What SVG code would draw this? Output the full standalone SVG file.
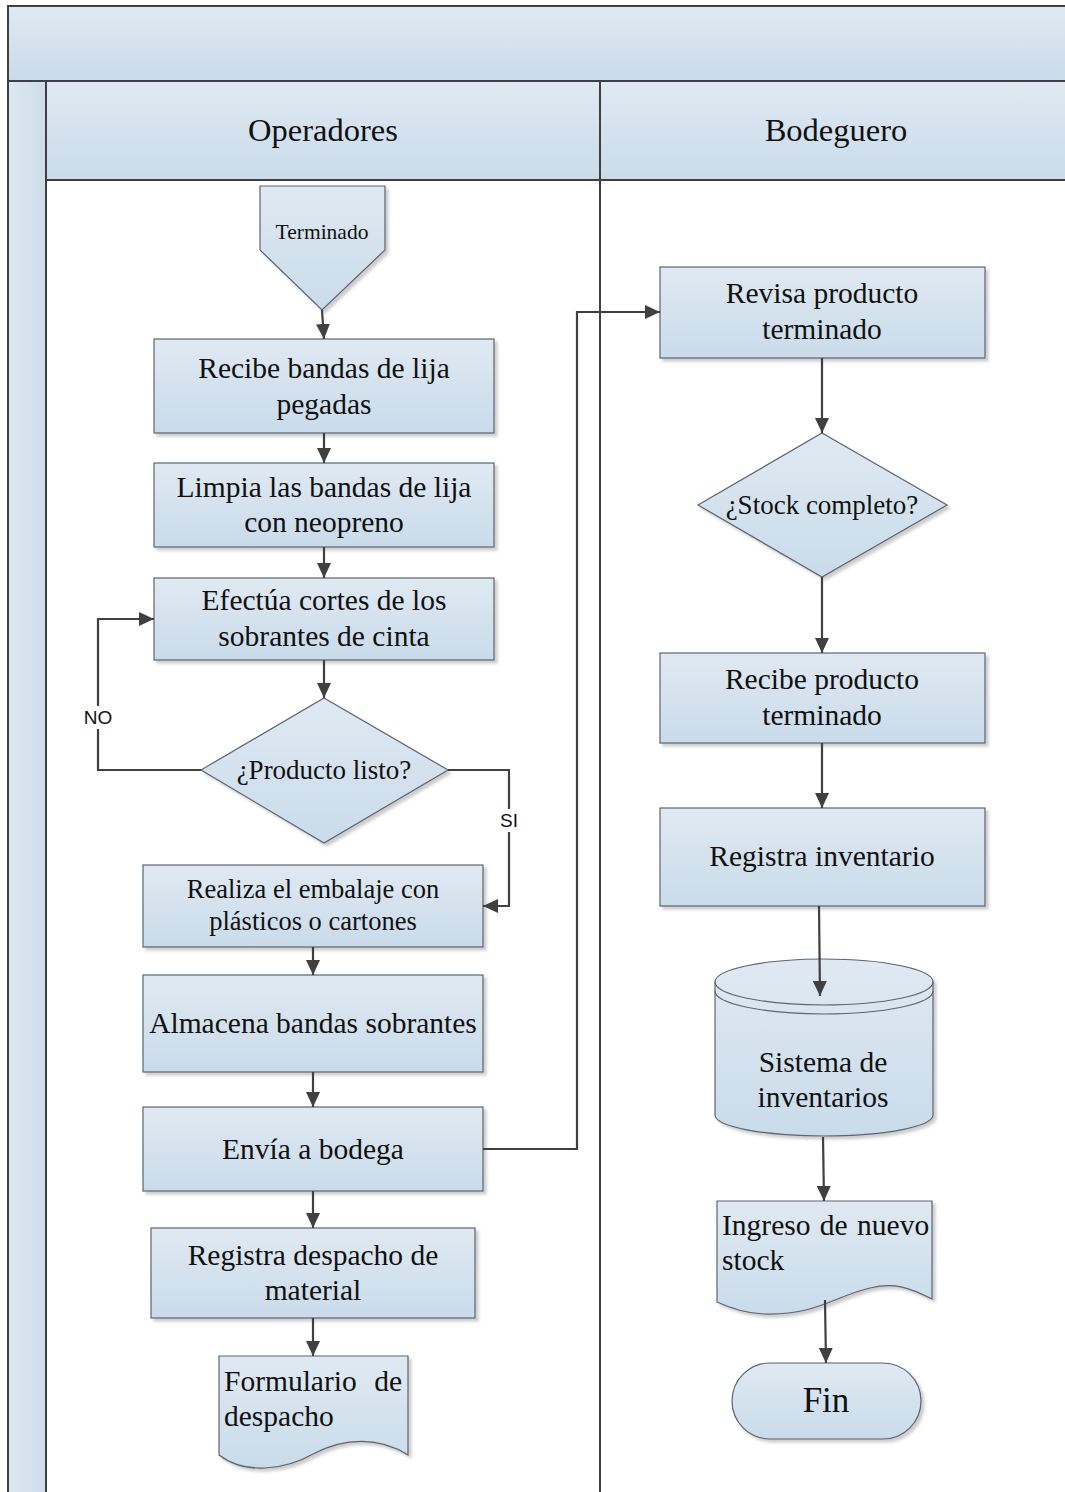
<svg xmlns="http://www.w3.org/2000/svg" width="1065" height="1492" viewBox="0 0 1065 1492">
  <defs>
    <linearGradient id="fillBlue" x1="0" y1="0" x2="0" y2="1">
      <stop offset="0" stop-color="#e0e9f2"/>
      <stop offset="1" stop-color="#c9dbea"/>
    </linearGradient>
    <linearGradient id="stripBlue" x1="0" y1="0" x2="1" y2="0">
      <stop offset="0" stop-color="#dfe8f1"/>
      <stop offset="1" stop-color="#cddcea"/>
    </linearGradient>
    <filter id="shadow" x="-10%" y="-10%" width="125%" height="130%">
      <feDropShadow dx="3" dy="3" stdDeviation="1.5" flood-color="#9a9a9a" flood-opacity="0.5"/>
    </filter>
    <marker id="arrow" viewBox="0 0 15 14" refX="15" refY="7" markerWidth="15" markerHeight="14" markerUnits="userSpaceOnUse" orient="auto">
      <path d="M0,0 L15,7 L0,14 z" fill="#404040"/>
    </marker>
  </defs>
  <style>
    .shape { fill: url(#fillBlue); stroke: #5b6570; stroke-width: 1.2; filter: url(#shadow); }
    .lbl { font-family: "Liberation Serif", "Times New Roman", serif; font-size: 29.5px; fill: #111; text-anchor: middle; }
    .lblS { font-family: "Liberation Serif", "Times New Roman", serif; font-size: 26.5px; fill: #111; text-anchor: middle; }
    .hdr { font-family: "Liberation Serif", "Times New Roman", serif; font-size: 32.5px; fill: #111; text-anchor: middle; }
    .doc { font-family: "Liberation Serif", "Times New Roman", serif; font-size: 29.5px; fill: #111; }
    .edge { fill: none; stroke: #404040; stroke-width: 2.2; }
    .arr { marker-end: url(#arrow); }
    .tag { font-family: "Liberation Sans", Arial, sans-serif; font-size: 19px; fill: #111; text-anchor: middle; }
    .frame { fill: none; stroke: #404040; stroke-width: 2; }
  </style>

  <rect width="1065" height="1492" fill="#ffffff"/>

  <!-- Pool and swimlanes -->
  <g id="pool">
    <rect x="8" y="6" width="1060" height="75" fill="url(#fillBlue)"/>
    <rect x="8" y="81" width="38" height="1415" fill="url(#stripBlue)"/>
    <rect x="46" y="81" width="554" height="99" fill="url(#fillBlue)"/>
    <rect x="600" y="81" width="468" height="99" fill="url(#fillBlue)"/>
    <path class="frame" d="M8,1496 V6 H1068"/>
    <path class="frame" d="M8,81 H1068"/>
    <path class="frame" d="M46,81 V1496"/>
    <path class="frame" d="M46,180 H1068"/>
    <path class="frame" d="M600,81 V1496" stroke-width="1.6"/>
  </g>
  <g id="lane-operadores"><text class="hdr" x="323" y="141">Operadores</text></g>
  <g id="lane-bodeguero"><text class="hdr" x="836" y="141">Bodeguero</text></g>

  <!-- Operadores lane nodes -->
  <g id="n-terminado">
    <path class="shape" d="M260,186 H385 V250 L322,310 L260,250 Z"/>
    <text class="lbl" x="322" y="239" style="font-size:21.5px">Terminado</text>
  </g>
  <g id="n-recibe-bandas">
    <rect class="shape" x="154" y="339" width="340" height="94"/>
    <text class="lbl" x="324" y="378">Recibe bandas de lija</text>
    <text class="lbl" x="324" y="414">pegadas</text>
  </g>
  <g id="n-limpia">
    <rect class="shape" x="154" y="463" width="340" height="84"/>
    <text class="lbl" x="324" y="497">Limpia las bandas de lija</text>
    <text class="lbl" x="324" y="532">con neopreno</text>
  </g>
  <g id="n-efectua">
    <rect class="shape" x="154" y="578" width="340" height="82"/>
    <text class="lbl" x="324" y="610">Efectúa cortes de los</text>
    <text class="lbl" x="324" y="646">sobrantes de cinta</text>
  </g>
  <g id="n-producto-listo">
    <path class="shape" d="M324,698 L448,770 L324,843 L201,770 Z"/>
    <text class="lbl" x="324" y="779" style="font-size:27px">¿Producto listo?</text>
  </g>
  <g id="n-embalaje">
    <rect class="shape" x="143" y="865" width="340" height="82"/>
    <text class="lblS" x="313" y="898">Realiza el embalaje con</text>
    <text class="lblS" x="313" y="930">plásticos o cartones</text>
  </g>
  <g id="n-almacena">
    <rect class="shape" x="143" y="975" width="340" height="97"/>
    <text class="lbl" x="313" y="1033">Almacena bandas sobrantes</text>
  </g>
  <g id="n-envia">
    <rect class="shape" x="143" y="1107" width="340" height="84"/>
    <text class="lbl" x="313" y="1159">Envía a bodega</text>
  </g>
  <g id="n-registra-despacho">
    <rect class="shape" x="151" y="1228" width="324" height="90"/>
    <text class="lbl" x="313" y="1265">Registra despacho de</text>
    <text class="lbl" x="313" y="1300">material</text>
  </g>
  <g id="n-formulario">
    <path class="shape" d="M219,1356 H408 V1455 C380,1437 345,1437 313,1454 C285,1470 245,1475 219,1455 Z"/>
    <text class="doc" x="224" y="1391">Formulario</text>
    <text class="doc" x="402" y="1391" text-anchor="end">de</text>
    <text class="doc" x="224" y="1426">despacho</text>
  </g>

  <!-- Bodeguero lane nodes -->
  <g id="n-revisa">
    <rect class="shape" x="660" y="267" width="325" height="91"/>
    <text class="lbl" x="822" y="303">Revisa producto</text>
    <text class="lbl" x="822" y="339">terminado</text>
  </g>
  <g id="n-stock-completo">
    <path class="shape" d="M822,433 L947,505 L822,577 L698,505 Z"/>
    <text class="lbl" x="822" y="514" style="font-size:27px">¿Stock completo?</text>
  </g>
  <g id="n-recibe-producto">
    <rect class="shape" x="660" y="653" width="325" height="90"/>
    <text class="lbl" x="822" y="689">Recibe producto</text>
    <text class="lbl" x="822" y="725">terminado</text>
  </g>
  <g id="n-registra-inventario">
    <rect class="shape" x="660" y="808" width="325" height="98"/>
    <text class="lbl" x="822" y="866">Registra inventario</text>
  </g>
  <g id="n-sistema">
    <path class="shape" d="M715,982 A109,23 0 0 1 933,982 V1115 A109,21 0 0 1 715,1115 Z"/>
    <path d="M715,982 A109,23 0 0 0 933,982" fill="none" stroke="#5b6570" stroke-width="1.2"/>
    <path d="M715,991 A109,23 0 0 0 933,991" fill="none" stroke="#5b6570" stroke-width="1.2"/>
    <text class="lbl" x="823" y="1072">Sistema de</text>
    <text class="lbl" x="823" y="1107">inventarios</text>
  </g>
  <g id="n-ingreso">
    <path class="shape" d="M717,1201 H932 V1299 C910,1288 895,1282 870,1288 C835,1296 815,1316 763,1314 C745,1313 730,1308 717,1302 Z"/>
    <text class="doc" x="722" y="1235" style="word-spacing:2px">Ingreso de nuevo</text>
    <text class="doc" x="722" y="1270">stock</text>
  </g>
  <g id="n-fin">
    <rect class="shape" x="732" y="1363" width="189" height="76" rx="38" ry="38"/>
    <text class="lbl" x="826" y="1412" style="font-size:35px">Fin</text>
  </g>

  <!-- Connectors -->
  <g id="connectors">
    <path class="edge arr" d="M322,310 L324,339"/>
    <path class="edge arr" d="M324,433 V463"/>
    <path class="edge arr" d="M324,547 V578"/>
    <path class="edge arr" d="M324,660 V698"/>
    <path class="edge arr" d="M201,770 H98 V619 H154"/>
    <path class="edge arr" d="M448,770 H509 V906 H483"/>
    <path class="edge arr" d="M313,947 V975"/>
    <path class="edge arr" d="M313,1072 V1107"/>
    <path class="edge arr" d="M313,1191 V1228"/>
    <path class="edge arr" d="M313,1318 V1356"/>
    <path class="edge arr" d="M483,1149 H577 V312 H660"/>
    <path class="edge arr" d="M822,358 V433"/>
    <path class="edge arr" d="M822,577 V653"/>
    <path class="edge arr" d="M822,743 V808"/>
    <path class="edge arr" d="M819,906 L820,996"/>
    <path class="edge arr" d="M823,1137 L824,1201"/>
    <path class="edge arr" d="M825,1300 L826,1363"/>
    <rect x="83" y="706" width="31" height="23" fill="#ffffff"/>
    <text class="tag" x="98" y="724">NO</text>
    <rect x="498" y="809" width="22" height="23" fill="#ffffff"/>
    <text class="tag" x="509" y="827">SI</text>
  </g>
</svg>
